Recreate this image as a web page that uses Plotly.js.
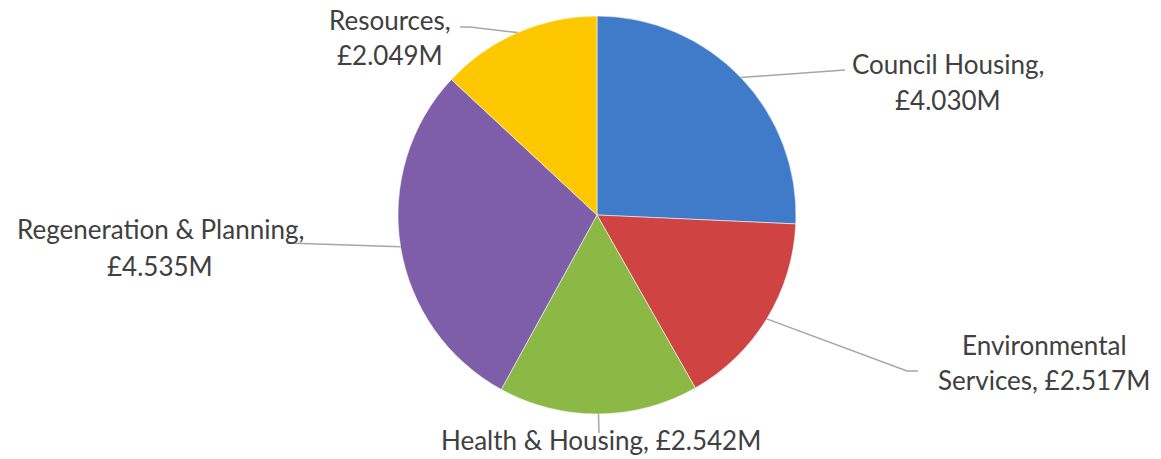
<!DOCTYPE html>
<html>
<head>
<meta charset="utf-8">
<script src="https://cdn.plot.ly/plotly-3.0.1.min.js"></script>
<style>html,body{margin:0;padding:0;background:#fff;}#chart{width:1161px;height:459px;}</style>
</head>
<body>
<div id="chart"></div>
<script>
// ---- data ----
const categories = ["Council Housing", "Environmental Services", "Health & Housing", "Regeneration & Planning", "Resources"];
const values = [4.030, 2.517, 2.542, 4.535, 2.049];
const valueLabels = values.map(v => "£" + v.toFixed(3) + "M");
const labelLines = [
  [categories[0] + ",", valueLabels[0]],
  ["Environmental", "Services, " + valueLabels[1]],
  [categories[2] + ", " + valueLabels[2]],
  [categories[3] + ",", valueLabels[3]],
  [categories[4] + ",", valueLabels[4]]
];
const colors = ["#3f7bc9", "#cf4443", "#8cb845", "#7e5ea8", "#fec800"];

// ---- layout (pixel positions) ----
const W = 1161, H = 459;
const cx = 597, cy = 215, R = 199;
const labelX = [948, 1044, 601, 160, 390];
const labelY = [[64, 100], [345, 380], [440], [229, 266], [20, 55]];
const leaderPts = [
  [[845, 70]],
  [[907, 371], [918, 371]],
  [[599, 433]],
  [[287, 243]],
  [[470, 27], [460, 27]]
];

const px = x => x / W;
const py = y => 1 - y / H;

const total = values.reduce((a, b) => a + b, 0);
let cum = 0;
const shapes = [];
const annotations = [];
values.forEach((v, i) => {
  const mid = (cum + v / 2) / total * 2 * Math.PI;
  cum += v;
  const ex = cx + R * Math.sin(mid);
  const ey = cy - R * Math.cos(mid);
  let path = "M" + px(ex) + "," + py(ey);
  leaderPts[i].forEach(p => { path += " L" + px(p[0]) + "," + py(p[1]); });
  shapes.push({type: "path", xref: "paper", yref: "paper", path: path,
    line: {color: "#a6a6a6", width: 1.5}});
  labelLines[i].forEach((t, j) => {
    annotations.push({xref: "paper", yref: "paper", x: px(labelX[i]), y: py(labelY[i][j]),
      xanchor: "center", yanchor: "middle", showarrow: false, text: t,
      font: {family: "Lato, 'Open Sans', sans-serif", size: 26, color: "#404040"}});
  });
});

const trace = {
  type: "pie",
  labels: categories,
  values: values,
  sort: false,
  direction: "clockwise",
  rotation: 0,
  textinfo: "none",
  hoverinfo: "label+value",
  marker: {colors: colors, line: {color: "rgba(255,255,255,0.55)", width: 1}},
  domain: {x: [px(cx - R), px(cx + R)], y: [py(cy + R), py(cy - R)]}
};

Plotly.newPlot("chart", [trace], {
  width: W, height: H,
  margin: {l: 0, r: 0, t: 0, b: 0},
  paper_bgcolor: "#ffffff",
  showlegend: false,
  shapes: shapes,
  annotations: annotations
}, {displayModeBar: false, staticPlot: true});
</script>
</body>
</html>
